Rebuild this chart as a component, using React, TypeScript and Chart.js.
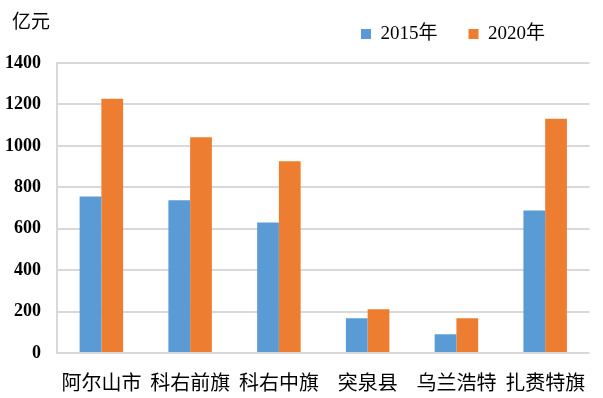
import React, { useEffect, useRef } from "react";
import { Chart, registerables } from "chart.js";

Chart.register(...registerables);

const categories = ["阿尔山市", "科右前旗", "科右中旗", "突泉县", "乌兰浩特", "扎赉特旗"];
const seriesNames = ["2015年", "2020年"];
const values2015 = [755, 737, 630, 168, 91, 688];
const values2020 = [1228, 1042, 926, 211, 168, 1131];
const unitLabel = "亿元";
const yMin = 0;
const yMax = 1400;
const yStep = 200;

const BLUE = "#5B9BD5";
const ORANGE = "#ED7D31";
const GRID = "#d9d9d9";

const boxPlugin = {
  id: "boxPlacement",
  afterLayout(chart: any) {
    const lg = chart.legend;
    if (lg) {
      const w = lg.right - lg.left;
      lg.left = 330;
      lg.right = 330 + w;
      lg.top = -6.5;
      lg.bottom = 62;
    }
    const tb = chart.titleBlock;
    if (tb) {
      const w = tb.right - tb.left;
      tb.left = 12;
      tb.right = 12 + w;
      tb.top = 9.6;
      tb.bottom = 40;
    }
  },
};

export default function App() {
  const canvasRef = useRef<HTMLCanvasElement | null>(null);

  useEffect(() => {
    if (!canvasRef.current) return;
    const chart = new Chart(canvasRef.current, {
      type: "bar",
      data: {
        labels: categories,
        datasets: [
          {
            label: seriesNames[0],
            data: values2015,
            backgroundColor: BLUE,
            borderWidth: 0,
            categoryPercentage: 0.49,
            barPercentage: 1,
          },
          {
            label: seriesNames[1],
            data: values2020,
            backgroundColor: ORANGE,
            borderWidth: 0,
            categoryPercentage: 0.49,
            barPercentage: 1,
          },
        ],
      },
      options: {
        animation: false,
        responsive: true,
        maintainAspectRatio: false,
        layout: { padding: { top: 0, left: 0, right: 4, bottom: 3.5 } },
        plugins: {
          tooltip: { enabled: false },
          title: {
            display: true,
            text: unitLabel,
            align: "start",
            color: "#000",
            padding: { top: 0, bottom: 0 },
            font: { family: '"Noto Sans CJK SC", sans-serif', size: 19, weight: "normal" },
          },
          legend: {
            display: true,
            position: "top",
            align: "start",
            maxHeight: 40.2,
            labels: {
              color: "#000",
              boxWidth: 10,
              boxHeight: 10,
              padding: 31,
              font: { family: '"Liberation Serif", "Noto Sans CJK SC", serif', size: 19 },
            },
          },
        },
        scales: {
          x: {
            afterFit: (scale: any) => {
              scale.height = 41.5;
            },
            grid: {
              drawTicks: false,
              lineWidth: 2,
              color: (ctx: any) => (ctx.index === categories.length ? GRID : "rgba(0,0,0,0)"),
            },
            border: { display: false },
            ticks: {
              color: "#000",
              padding: 17.5,
              font: { family: '"Noto Sans CJK SC", sans-serif', size: 20 },
            },
          },
          y: {
            min: yMin,
            max: yMax,
            afterFit: (scale: any) => {
              scale.width = 57;
            },
            grid: { drawTicks: false, color: GRID, lineWidth: 2 },
            border: { display: true, color: GRID, width: 2 },
            ticks: {
              stepSize: yStep,
              color: "#000",
              padding: 16,
              callback: (v: any) => String(v),
              font: { family: '"Liberation Serif", "Times New Roman", serif', size: 18, weight: "bold" },
            },
          },
        },
      },
      plugins: [boxPlugin],
    });
    return () => chart.destroy();
  }, []);

  return (
    <div style={{ position: "fixed", left: 0, top: 0, width: 603, height: 398, background: "#fff" }}>
      <canvas ref={canvasRef} />
    </div>
  );
}
